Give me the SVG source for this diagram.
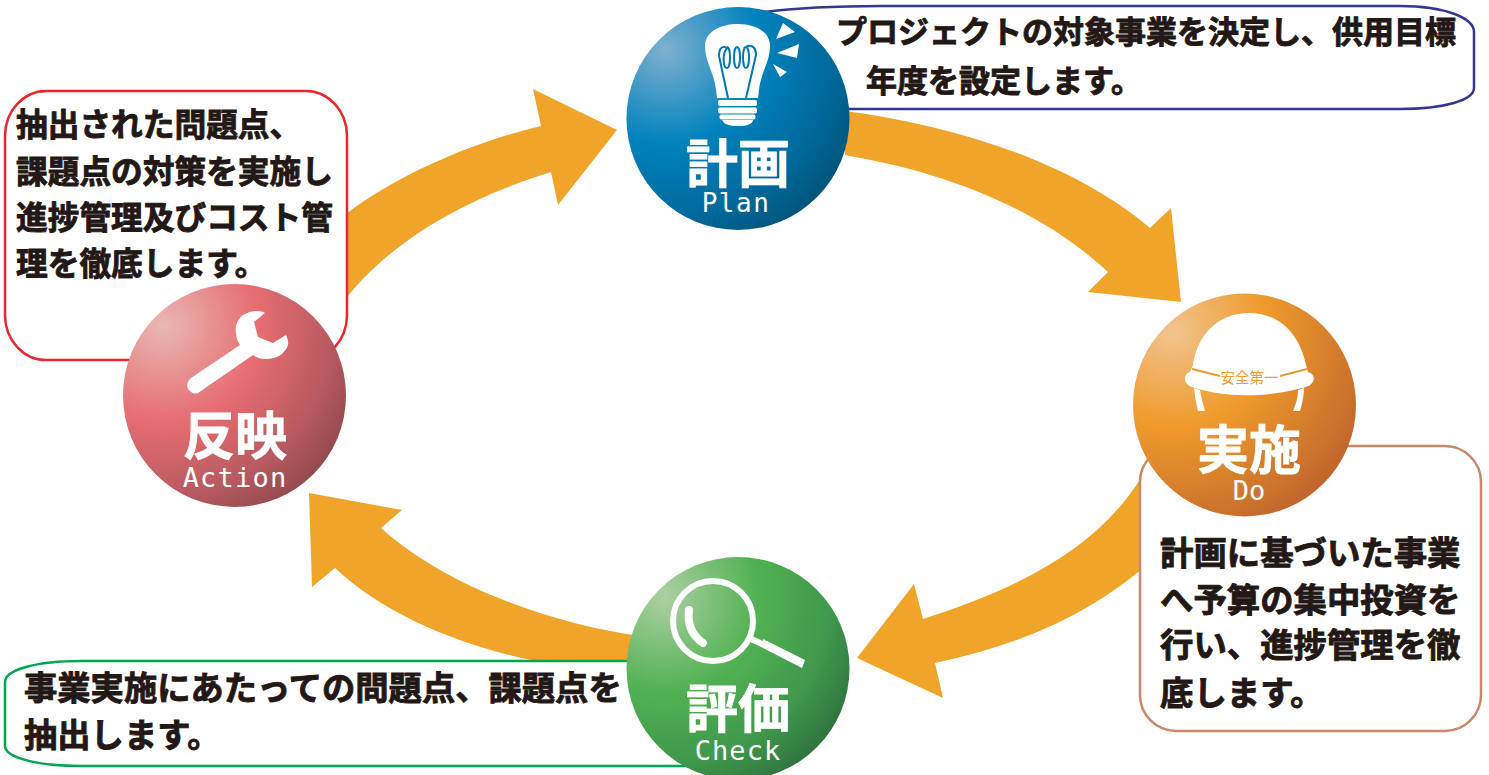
<svg xmlns="http://www.w3.org/2000/svg" width="1489" height="775" viewBox="0 0 1489 775">
<style>
text{font-family:"Noto Sans CJK JP","Noto Sans",sans-serif}
.b{font-weight:700;fill:#231815;stroke:#231815;stroke-width:.9px}
.bub{fill:#fff;stroke-width:2.5px}
.arrow{fill:#f0a42a}
.t{font-size:52px;font-weight:700;fill:#fff;text-anchor:middle;stroke:#fff;stroke-width:.8px}
.e{font-family:"DejaVu Sans Mono","Liberation Mono",monospace;font-size:27px;fill:#fff;text-anchor:middle}
.w{fill:#fff}
</style>
<defs>
<radialGradient id="gP" gradientUnits="userSpaceOnUse" cx="666" cy="50" r="225"><stop offset="0" stop-color="#7fb0cf"/><stop offset=".42" stop-color="#0082bd"/><stop offset=".75" stop-color="#00689a"/><stop offset="1" stop-color="#004f70"/></radialGradient>
<radialGradient id="gD" gradientUnits="userSpaceOnUse" cx="1173" cy="332" r="225"><stop offset="0" stop-color="#f0c490"/><stop offset=".42" stop-color="#f09a2c"/><stop offset=".75" stop-color="#d27a2c"/><stop offset="1" stop-color="#bd602c"/></radialGradient>
<radialGradient id="gC" gradientUnits="userSpaceOnUse" cx="664" cy="597" r="225"><stop offset="0" stop-color="#add0a2"/><stop offset=".42" stop-color="#52b153"/><stop offset=".75" stop-color="#3f974c"/><stop offset="1" stop-color="#2c6c3c"/></radialGradient>
<radialGradient id="gA" gradientUnits="userSpaceOnUse" cx="163" cy="326" r="225"><stop offset="0" stop-color="#e9b8b4"/><stop offset=".42" stop-color="#e76e72"/><stop offset=".75" stop-color="#b85a60"/><stop offset="1" stop-color="#874547"/></radialGradient>
</defs>
<g id="connectors">
<path class="arrow" d="M845 111C950 125 1070 160 1150 228L1171 208L1181 302L1088 292L1108 272C1030 200 930 170 845 155Z"/>
<path class="arrow" d="M1150 462C1110 540 1030 585 923 619L914 584L857 658L943 698L935 663C1020 645 1090 615 1150 562Z"/>
<path class="arrow" d="M640 636C560 625 450 590 381 528L402 510L309 493L312 587L335 568C385 615 460 645 531 660L640 680Z"/>
<path class="arrow" d="M340 219C380 185 460 145 541 126L533 89L617 130L558 205L551 172C460 200 385 245 340 306Z"/>
</g>
<g id="plan-note">
<path class="bub" d="M750 14C790 8 830 6 880 6L1400 6C1445 6 1474 18 1474 32L1474 88C1474 100 1445 109 1400 109L750 109Z" stroke="#33378f"/>
<text class="b" x="836" y="43" font-size="31">プロジェクトの対象事業を決定し、供用目標</text>
<text class="b" x="866" y="92" font-size="31">年度を設定します。</text>
</g>
<g id="do-note">
<rect class="bub" x="1140" y="446" width="341" height="285" rx="36" ry="36" stroke="#c8896a"/>
<text class="b" x="1160" y="565" font-size="33.400">計画に基づいた事業</text>
<text class="b" x="1160" y="612" font-size="33.400">へ予算の集中投資を</text>
<text class="b" x="1160" y="657" font-size="33.400">行い、進捗管理を徹</text>
<text class="b" x="1160" y="705" font-size="33.400">底します。</text>
</g>
<g id="check-note">
<path class="bub" d="M720 661L82 661C35 661 5 670 5 682L5 746C5 757 35 766 82 766L720 766Z" stroke="#00a651"/>
<text class="b" x="24" y="700" font-size="33.300">事業実施にあたっての問題点、課題点を</text>
<text class="b" x="24" y="747" font-size="33.300">抽出します。</text>
</g>
<g id="action-note">
<rect class="bub" x="5" y="91" width="342" height="269" rx="41" ry="45" stroke="#e8282e"/>
<text class="b" x="16" y="136" font-size="31.700">抽出された問題点、</text>
<text class="b" x="16" y="183" font-size="31.700">課題点の対策を実施し</text>
<text class="b" x="16" y="229" font-size="31.700">進捗管理及びコスト管</text>
<text class="b" x="16" y="275" font-size="31.700">理を徹底します。</text>
</g>
<g id="plan">
<circle cx="738" cy="118.500" r="111.500" fill="url(#gP)"/>
<path class="w" d="M705 46C705 32 720 24 738 24C756 24 770 32 770 46C770 62 761 72 759 90L758 98L717 98L716 90C714 72 705 62 705 46Z"/>
<path d="M728 98L719 56C719 46 724 46 727 48C722 54 723 68 727 68C731 68 731 47 727 47M737 47C733 47 733 68 737 68C741 68 741 47 737 47M746 47C742 47 742 68 746 68C750 68 750 47 746 47C749 45 756 45 756 55L746 98" fill="none" stroke="#0078ad" stroke-width="2"/>
<rect class="w" x="718" y="100" width="39" height="6" rx="2"/><rect class="w" x="718" y="107.500" width="39" height="6" rx="2"/><rect class="w" x="719.500" y="114.500" width="36" height="5" rx="2"/>
<path class="w" d="M722 120H753Q752 126 738 126Q724 126 722 120Z"/>
<path class="w" d="M783 23L795 32L776 39ZM777 53L799 44L797 58ZM773 64L787 72L780 77Z"/>
<text class="t" x="738" y="183">計画</text>
<text class="e" x="736" y="212" style="font-size:26px;letter-spacing:1.500px">Plan</text>
</g>
<g id="do">
<circle cx="1244.500" cy="405" r="111.500" fill="url(#gD)"/>
<path class="w" d="M1193 365C1197 335 1218 313 1249 313C1280 313 1300 335 1306 365L1308 372C1316 374 1316 384 1306 387C1265 398 1225 398 1192 387C1183 384 1183 374 1190 372Z"/>
<path d="M1192 369L1220 376M1280 376L1307 369" fill="none" stroke="#ec9a35" stroke-width="2"/>
<path class="w" d="M1194 388L1200 390C1201 397 1203 404 1205 411L1198 411C1196 404 1195 396 1194 388ZM1304 388L1298 390C1298 397 1296 404 1293 411L1300 411C1302 404 1304 396 1304 388Z"/>
<text x="1249.500" y="383" text-anchor="middle" font-size="14.500" fill="#ef9a33">安全第一</text>
<text class="t" x="1249" y="469">実施</text>
<text class="e" x="1249" y="500">Do</text>
</g>
<g id="check">
<circle cx="738" cy="668.500" r="111.500" fill="url(#gC)"/>
<circle cx="713" cy="621" r="40" fill="none" stroke="#fff" stroke-width="6"/>
<path d="M689 610C687 625 693 636 703 643" fill="none" stroke="#fff" stroke-width="8" stroke-linecap="round"/>
<path class="w" d="M752 636L763 641L763 639L805 660L802 668L759 646L750 642Z"/>
<text class="t" x="738" y="728">評価</text>
<text class="e" x="738" y="760" style="letter-spacing:1px">Check</text>
</g>
<g id="action">
<circle cx="234.500" cy="395.500" r="111.500" fill="url(#gA)"/>
<path class="w" d="M265 313C262 311 258 311 255 311C246 312 241 316 240 318C236 323 235 328 236 333C236 338 238 342 240 345L191 378C185 383 187 389 190 391C193 394 196 394 198 393L253 355C256 357 260 359 265 359C272 359 278 357 282 354C286 350 289 346 288 342C288 340 287 337 286 335L273 343L258 337L254 322Z"/>
<text class="t" x="235" y="455">反映</text>
<text class="e" x="235" y="487" style="letter-spacing:1.200px">Action</text>
</g>
</svg>
